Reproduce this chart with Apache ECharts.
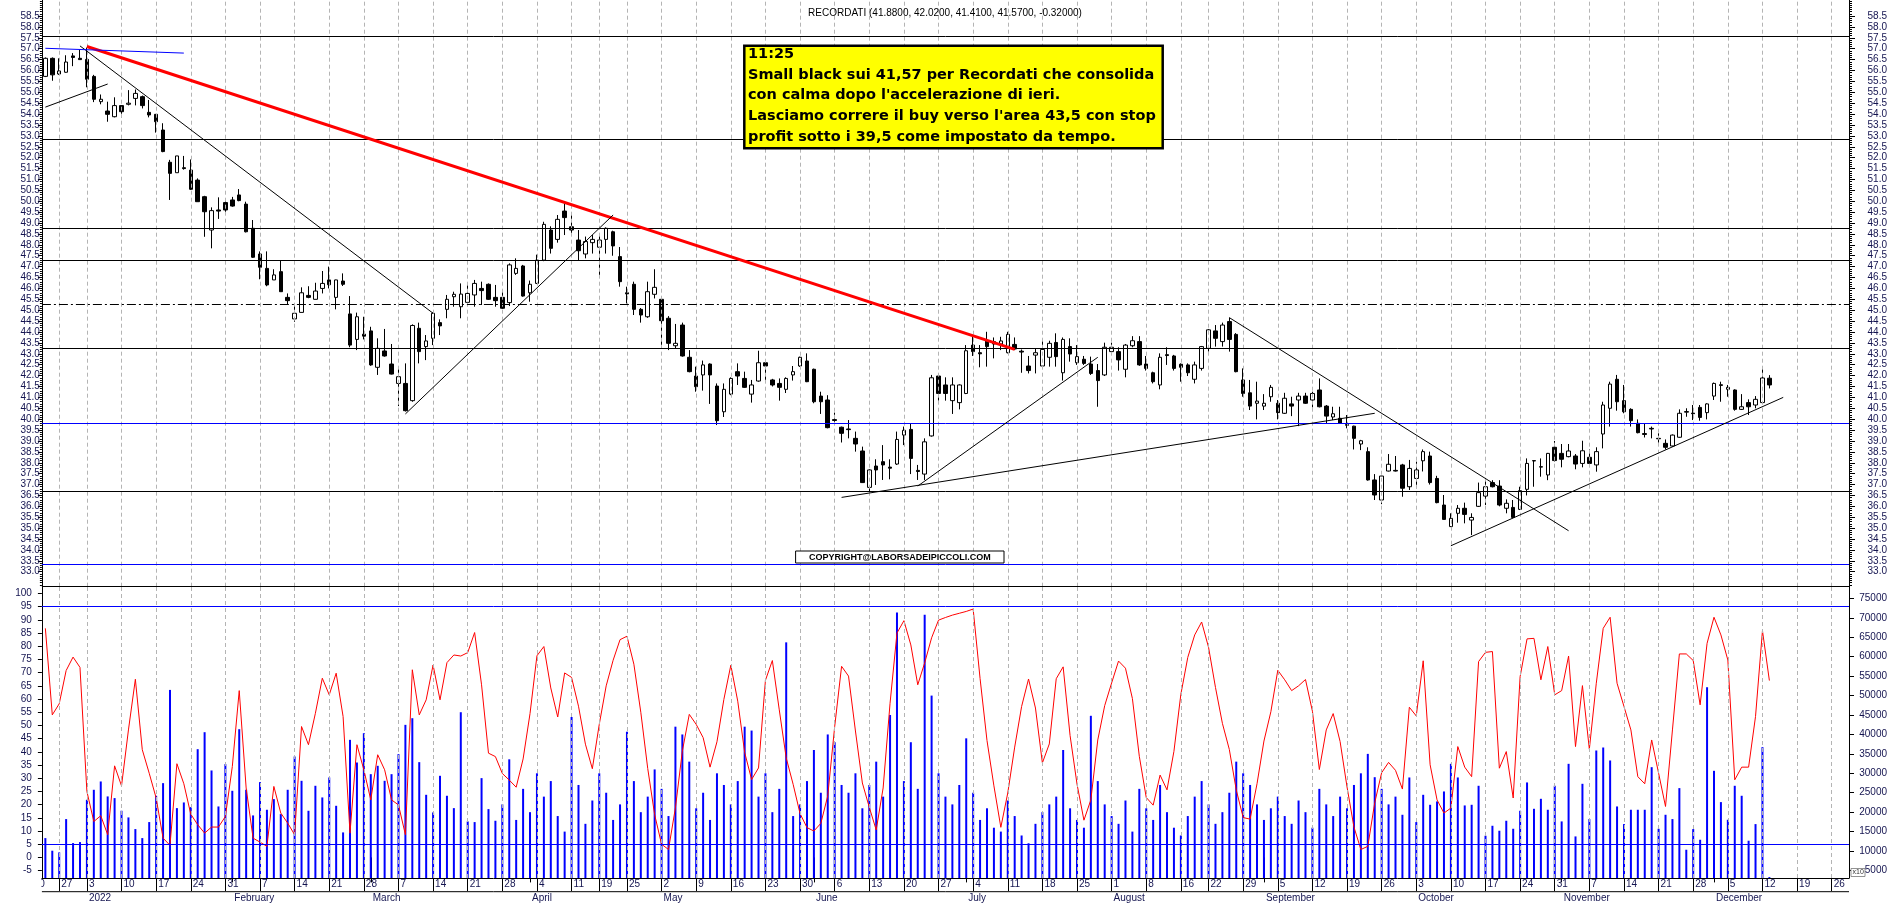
<!DOCTYPE html>
<html><head><meta charset="utf-8">
<script src="https://cdn.jsdelivr.net/npm/echarts@6/dist/echarts.min.js"></script>
<style>html,body{margin:0;padding:0;background:#fff}#c{width:1890px;height:903px}</style>
</head><body><div id="c"></div>
<script>
// ---------- calendar ----------
const HOLIDAYS = ['2021-12-24','2021-12-31','2022-04-15','2022-04-18','2022-08-15'];
const MONTHS = ['January','February','March','April','May','June','July','August','September','October','November','December'];
function buildDays(){
  const out=[]; let d=Date.UTC(2021,11,22); const end=Date.UTC(2022,11,28);
  while(d<=end){const dt=new Date(d);const w=dt.getUTCDay();const s=dt.toISOString().slice(0,10);
    if(w!==0&&w!==6&&HOLIDAYS.indexOf(s)<0) out.push(s); d+=86400000;}
  return out;
}
const DATES = buildDays();

// ---------- price data (open, close, low, high) ----------
const OPEN = [55.73,56.56,55.84,55.92,56.67,56.56,56.51,55.73,54.57,54.14,53.88,54.39,54.45,54.72,54.8,54.08,53.99,53.27,51.79,51.31,
51.54,51.43,50.97,50.21,48.68,49.6,49.94,50.06,50.29,49.87,48.76,47.58,46.92,46.39,46.77,45.59,44.6,44.9,45.68,45.5,
46.0,46.39,45.59,46.34,44.83,43.66,43.9,44.05,42.38,43.13,42.53,41.64,41.64,40.85,44.17,43.33,43.71,44.43,45.04,45.62,
45.16,45.36,45.7,46.0,46.19,45.59,45.59,45.35,46.69,47.03,45.8,46.23,47.3,48.68,48.25,49.55,48.83,48.22,47.58,48.1,
47.89,48.25,48.6,47.46,45.8,46.19,45.04,44.7,45.73,45.5,44.63,43.37,44.32,42.84,41.98,42.03,42.53,41.52,40.34,41.15,
42.18,41.87,41.15,41.75,42.59,41.8,41.64,41.37,42.03,42.44,42.67,42.29,41.06,40.88,39.98,39.63,39.55,39.12,38.54,36.87,
37.85,38.05,37.8,37.94,39.27,39.53,37.65,37.48,39.23,41.98,41.57,40.85,40.76,41.18,43.4,43.05,43.6,43.45,43.45,43.05,
43.43,43.12,42.44,42.94,42.44,42.84,43.52,42.13,43.33,42.59,42.75,42.53,42.23,42.03,43.1,43.1,42.29,43.37,43.56,42.53,
42.13,41.57,42.96,42.9,42.52,42.49,41.83,42.33,43.25,44.05,43.56,44.48,43.89,41.8,41.21,40.73,40.6,41.03,40.73,40.27,
40.7,40.88,41.06,40.88,41.34,40.6,40.1,40.04,39.75,39.68,38.86,38.51,37.21,36.29,37.62,37.65,37.9,36.9,37.28,38.09,
38.31,37.28,36.06,35.07,35.68,35.91,35.37,36.0,36.47,37.09,36.93,35.91,35.95,35.86,36.78,38.08,37.82,37.44,38.71,38.43,
38.28,38.31,37.97,38.25,37.9,39.32,40.5,41.83,40.85,40.45,39.81,39.34,39.58,39.12,38.89,38.77,39.17,40.32,40.28,40.54,
40.3,41.06,41.58,41.37,41.34,40.45,40.76,40.65,40.76,41.88];
const CLOSE = [56.56,55.8,55.98,56.39,56.6,56.5,55.6,54.68,54.68,53.99,54.39,54.11,54.5,54.95,54.39,53.96,53.65,52.28,51.28,52.08,
51.5,50.55,49.98,49.52,49.57,49.55,49.6,49.78,50.03,48.6,47.43,46.97,46.16,46.62,45.85,45.44,44.86,45.8,45.59,45.88,
46.23,46.17,46.39,46.19,43.4,44.7,43.81,42.49,43.25,42.9,42.07,41.95,40.39,44.3,43.1,43.59,44.86,44.28,45.5,45.73,
45.74,45.77,46.23,45.9,45.5,45.44,45.09,47.08,46.92,45.65,46.19,47.3,48.94,47.84,49.17,49.25,48.68,47.73,48.15,48.25,
48.22,48.76,47.95,46.31,45.75,45.04,44.78,45.85,46.05,44.52,43.48,43.48,42.9,42.18,41.49,42.49,42.03,39.93,41.37,41.87,
41.98,41.46,41.57,42.59,42.44,41.57,41.46,41.87,42.18,42.84,41.72,40.8,40.8,39.61,39.94,39.35,39.52,38.86,37.09,37.67,
37.67,37.9,37.75,39.07,39.49,38.2,37.6,38.96,41.9,41.18,41.18,41.57,41.57,43.14,43.1,43.0,43.33,43.56,43.59,43.89,
43.22,43.08,42.23,43.05,43.2,43.48,42.87,43.66,42.99,42.87,42.56,42.1,41.77,43.3,43.3,42.72,43.4,43.6,42.49,42.33,
41.72,42.84,42.92,42.33,42.38,42.13,42.49,43.33,44.1,43.71,44.32,43.66,42.18,41.18,40.6,40.83,40.73,41.46,40.3,40.96,
40.6,41.06,40.73,41.18,40.57,40.14,40.25,39.81,39.72,39.12,39.01,37.21,36.52,37.39,37.93,37.62,36.83,37.74,37.67,38.51,
37.09,36.17,35.4,35.45,35.91,35.63,35.49,36.63,36.9,36.9,36.06,36.14,35.49,36.72,37.97,38.1,37.8,38.43,38.1,38.16,
38.54,37.94,38.55,37.97,38.51,40.65,41.61,40.8,40.34,39.93,39.38,39.3,39.55,39.1,38.71,39.27,40.27,40.35,40.25,40.08,
40.7,41.64,41.55,41.46,40.45,40.57,40.57,40.91,41.89,41.57];
const LOW = [55.7,55.53,55.8,55.9,56.2,56.5,55.23,54.55,54.45,53.65,53.85,53.85,54.4,54.4,54.26,53.85,53.15,52.25,50.06,51.31,
51.45,50.52,49.98,48.37,47.84,49.19,49.37,49.75,50.0,48.57,47.4,46.42,46.1,46.39,45.85,45.28,44.47,44.9,45.55,45.5,
45.77,46.0,45.04,46.11,43.3,43.17,43.66,42.45,42.03,42.87,42.05,40.6,40.35,40.8,42.56,42.71,43.4,43.86,44.63,45.16,
44.63,45.3,45.16,45.24,45.47,45.16,45.06,45.19,46.62,45.62,45.39,46.2,47.25,47.6,48.1,48.45,48.45,47.3,47.38,47.6,
46.55,47.6,47.5,46.08,45.31,44.78,44.43,44.65,45.54,43.22,43.17,43.22,42.87,42.15,41.26,41.31,40.7,39.73,40.1,41.1,
41.57,41.43,40.76,41.72,41.77,41.5,40.85,41.2,41.77,42.4,41.7,40.73,40.24,39.58,39.73,38.93,39.12,38.51,37.07,36.62,
36.98,37.21,37.24,37.9,38.81,37.48,37.21,37.21,39.2,40.85,40.85,40.24,40.45,41.15,42.9,42.38,42.41,42.79,43.17,43.02,
43.17,42.13,42.1,42.1,42.33,42.41,42.41,41.77,42.64,42.49,42.49,42.03,40.57,41.98,43.05,42.23,41.92,43.3,42.45,42.23,
41.64,41.37,42.49,42.23,41.72,41.98,41.64,42.23,43.1,43.33,43.33,43.1,42.15,41.03,40.42,39.99,40.42,40.8,39.99,40.24,
40.14,39.68,40.7,40.54,40.54,39.81,39.96,39.78,39.58,38.61,38.58,37.18,36.29,36.1,37.6,37.6,36.44,36.75,36.83,37.6,
37.0,36.14,35.4,35.05,35.25,35.22,34.68,35.97,36.06,36.87,36.0,35.68,35.45,35.83,36.5,36.9,37.36,37.2,38.06,37.79,
38.25,37.7,37.79,37.94,37.59,38.66,39.66,40.39,40.27,39.66,39.35,39.16,39.12,38.92,38.61,38.74,39.15,40.11,39.96,39.93,
39.99,40.88,40.8,41.03,40.39,40.42,40.19,40.5,40.73,41.41];
const HIGH = [56.6,56.6,56.56,56.7,56.8,56.95,57.05,55.8,54.9,54.57,54.77,54.4,55.1,55.13,54.85,54.65,54.0,53.58,51.9,52.08,
52.08,51.92,51.05,50.25,49.72,50.18,50.0,50.2,50.56,49.98,49.14,47.7,47.7,46.88,47.27,45.77,45.24,46.05,46.1,46.26,
46.8,47.0,46.4,46.69,45.65,44.89,44.7,44.24,43.71,44.14,43.45,42.33,42.56,44.35,44.43,43.86,44.9,44.58,45.7,45.85,
46.23,46.23,46.39,46.31,46.23,46.16,45.85,47.15,47.38,47.08,46.36,47.55,49.06,48.85,49.37,49.9,49.37,48.68,48.38,48.45,
48.45,48.8,48.65,47.9,46.08,46.31,45.1,46.31,46.88,45.62,44.73,44.37,44.43,43.17,42.41,42.69,42.56,41.64,41.64,41.92,
42.56,42.18,41.8,43.14,42.62,41.85,41.87,41.92,42.44,42.87,43.02,42.32,41.26,41.1,40.3,39.66,39.96,39.43,38.74,37.7,
38.16,38.81,38.16,39.43,39.66,39.8,37.9,39.12,42.03,42.03,41.92,41.92,41.6,43.4,43.86,43.4,44.01,43.75,43.78,44.01,
43.75,43.2,42.9,43.25,43.71,43.6,43.94,43.75,43.71,43.4,42.9,42.87,42.53,43.51,43.51,43.3,43.45,43.81,43.81,42.9,
42.18,43.02,43.3,42.95,42.56,42.56,42.64,43.36,44.14,44.32,44.43,44.66,43.95,42.33,41.8,41.72,41.15,41.57,40.88,41.21,
41.03,41.21,41.21,41.26,41.87,40.65,40.57,40.57,40.19,39.7,39.05,38.71,37.48,37.4,38.4,38.31,37.95,38.13,38.05,38.61,
38.51,37.4,36.52,35.68,36.06,36.17,35.68,37.09,37.2,37.2,37.2,36.32,36.29,36.9,38.2,38.12,38.2,38.45,39.0,38.86,
38.86,38.4,39.01,38.61,38.71,40.8,41.72,42.03,41.57,40.5,39.99,39.81,39.66,39.35,39.07,39.3,40.45,40.5,40.65,40.65,
40.73,41.68,41.72,41.57,41.37,41.15,40.91,41.06,42.44,42.02];

// ---------- lower panel ----------
const VOLUME = [13330,10080,9650,18220,12050,12300,23190,25760,27900,24050,23620,20360,18650,15650,13330,17450,24220,27470,51460,21040,
22500,21300,36210,40580,30730,21470,32360,25500,41350,25760,19160,27730,20620,23360,19500,25760,34330,28070,20360,26790,
23790,28930,21640,14790,38610,32780,40320,29780,31930,28070,29780,34930,42470,44180,32870,24470,19930,29360,24220,21040,
45720,17620,17450,28760,20790,17790,
22000,33600,18000,26000,20000,30000,24000,28000,19000,15000,
44500,27000,17000,23000,30000,25000,18000,22000,40700,28000,
20000,24000,31000,26000,19000,42000,40000,33000,21000,25000,
18000,30000,27000,22000,28000,42000,41000,24000,30000,20000,
26000,63700,19000,22000,28000,36000,25000,40000,38000,27000,
25000,30000,21000,27000,33000,24000,45000,71400,28000,38000,
26000,70800,50000,30000,24000,22000,27000,39000,25000,18000,
21000,16000,15000,23000,19000,14000,12000,17000,20000,22000,
24000,36000,21000,18000,16000,44800,28000,22000,19000,17000,
23000,15000,26000,21000,18000,27000,20000,16000,14000,19000,
24000,28000,22000,17000,20000,25000,33000,30000,27000,22000,
18000,21000,24000,19000,17000,23000,20000,16000,26000,22000,
19000,24000,21000,27000,30000,35000,29000,26000,22000,24000,
19330,28930,17450,24470,21900,22760,25330,32440,28930,21730,21900,26790,13930,16500,15220,17790,15730,20360,27650,20870,
23440,20620,26790,17620,32440,13760,27300,18220,35870,36640,33300,21470,16930,20620,20620,20620,31580,15730,19330,18220,
26190,10330,15650,12900,52150,30640,22590,18050,26790,24220,12650,16930,36730,3300];
const OSC = [86.8,54,58.2,70.8,75.9,72,25,13.6,15.8,8.6,34.7,27.1,48.3,67.5,40.8,31.9,22.5,7.3,4.6,35.5,
27.9,16.4,12.4,9.2,11.5,11.5,15.5,34.4,63.2,26.3,7.3,5.8,4.2,26.9,16.8,13,8.6,49.6,42.7,54.6,
67.9,61.6,69.8,53.4,9.2,42.7,33.2,21.8,38.9,33.2,21.8,19.9,8.6,71.1,54,59.7,72.9,59.7,73.8,76.7,
76.3,77.6,85.2,65.4,39.5,38.2,
31.8,29.3,26.6,37.3,54.5,76.4,79.9,64.2,53.2,69.9,68.2,57.3,42.9,33.6,50.4,65,74.7,82.5,83.8,73.2,
55,33.7,16.2,5,3,18.8,40.3,54.2,50.4,45.4,34.2,43.8,59.9,72.8,59.2,39.8,29.5,33.9,67.1,74.6,
55.9,37.7,27.7,16.6,11.3,10,12.9,23.3,49.5,72.4,68.7,47.9,28.2,19,10.4,26.3,58.4,85,89.7,80.5,
65.4,73.7,83.2,89.9,90.9,91.8,92.5,93.2,94.1,67.8,44.3,27.1,11.4,24.4,41.8,57.2,67.6,56.6,35.8,43,
67.7,72.2,46.2,27.8,14.1,21.8,44.5,57.5,66.1,74.4,71.7,60.2,38.3,22.7,19.8,31.2,25.6,40.2,61.8,75.8,
84.3,89.2,79.6,64.4,50.8,40.9,25.6,15.1,14.5,27.9,44.1,55.2,70.9,67.3,63.2,65,67.4,55.4,33.3,48.3,
54.5,43.9,26.7,11.5,3,4.2,20.7,32.1,36,33,
25.9,56.9,53.6,74.5,35.1,21.8,16.8,18.7,42,34.2,30.6,74.2,77.7,78,33.8,40.1,22.5,68.5,82.8,83,
67.3,79.9,61.6,63.2,76.3,42,65.1,41,66,86.8,91,66,57.2,48.3,30.6,27.9,44.5,31.9,19.3,48.3,
77.1,77.1,74.6,57.8,81.1,91,84.3,74.8,29.4,34.2,34.2,53.4,85.9,67];

// ---------- analyst drawings ----------
const LEVELS_BLACK = [57.58,52.84,48.76,47.29,43.25,36.70];
const LEVEL_DASHDOT = 45.29;
const LEVELS_BLUE = [39.81,33.34];
const OSC_LEVELS_BLUE = [95,5];
const TRENDLINES = [ // [index1, price1, index2, price2, color, width]
  [6,57.1,140,43.2,'#ff0000',3],
  [5,57.13,56,44.86,'#000000',1],
  [52,40.24,82,49.37,'#000000',1],
  [0,54.32,9,55.38,'#000000',1],
  [0,57.02,20,56.8,'#0000ff',1],
  [115,36.41,192,40.27,'#000000',1],
  [126,36.93,152,42.84,'#000000',1],
  [171,44.66,220,34.88,'#000000',1],
  [203,34.19,251,41.0,'#000000',1]
];
const PRICE_MIN=32.312, PRICE_MAX=59.236, OSC_MIN=-7.8, OSC_MAX=102.57, VOL_MIN=3059, VOL_MAX=78021;
const PRICE_LABELS=[]; for(let k=0;k<=51;k++) PRICE_LABELS.push(Math.round((33+k*0.5)*10)/10);
const PRICE_MINOR=[]; for(let k=0;k<=269;k++){const v=Math.round((32.4+k*0.1)*10)/10; if(v<PRICE_MAX) PRICE_MINOR.push(v);}
const OSC_LABELS=[]; for(let v=-5;v<=100;v+=5) OSC_LABELS.push(v);
const VOL_LABELS=[]; for(let v=5000;v<=75000;v+=5000) VOL_LABELS.push(v);
const TITLE='RECORDATI (41.8800, 42.0200, 41.4100, 41.5700, -0.32000)';
const NOTE=['11:25','Small black sui 41,57 per Recordati che consolida','con calma dopo l\'accelerazione di ieri.','Lasciamo correre il buy verso l\'area 43,5 con stop','profit sotto i 39,5 come impostato da tempo.'];

// ---------- derived ----------
function weekKey(s){const t=Date.parse(s+'T00:00:00Z');const w=(new Date(t).getUTCDay()+6)%7;return t-w*86400000;}
const WEEK_START = DATES.map((d,i)=> i>0 && weekKey(d)!==weekKey(DATES[i-1]));
const MONTH_START = DATES.map((d,i)=> i>0 && d.slice(0,7)!==DATES[i-1].slice(0,7));
const WEEK_CATS = DATES.filter((d,i)=>WEEK_START[i]);
const candle = OPEN.map((o,i)=>[o,CLOSE[i],LOW[i],HIGH[i]]);

const FONT='"Liberation Sans", Arial, sans-serif';
const LBL='#141450';
const grid = {color:'#b4b4b4',width:1,type:[4,3]};
const vLines = WEEK_CATS.map(c=>({xAxis:c,lineStyle:grid}));
const priceMarks = [].concat(
  vLines,
  LEVELS_BLACK.map(v=>({yAxis:v,lineStyle:{color:'#000',width:1,type:'solid'}})),
  [{yAxis:LEVEL_DASHDOT,lineStyle:{color:'#000',width:1,type:[9,3,2,3]}}],
  LEVELS_BLUE.map(v=>({yAxis:v,lineStyle:{color:'#0000ff',width:1,type:'solid'}})),
  TRENDLINES.map(t=>[{coord:[t[0],t[1]],lineStyle:{color:t[4],width:t[5],type:'solid'}},{coord:[t[2],t[3]]}])
);

const G_LEFT=41.9, G_W=1807.1;
const chart = echarts.init(document.getElementById('c'));
chart.setOption({
  animation:false,
  textStyle:{fontFamily:FONT},
  title:{text:TITLE,left:'center',top:3,textStyle:{fontSize:10,fontWeight:'normal',color:'#000',fontFamily:FONT}},
  grid:[
    {left:G_LEFT,width:G_W,top:0,height:586.7,containLabel:false},
    {left:G_LEFT,width:G_W,top:586.7,height:291.6,containLabel:false}
  ],
  xAxis:[
    {type:'category',gridIndex:0,data:DATES,position:'bottom',boundaryGap:true,axisLine:{show:false},axisTick:{show:false},axisLabel:{show:false},splitLine:{show:false}},
    {type:'category',gridIndex:1,data:DATES,position:'bottom',boundaryGap:true,
      axisLine:{show:true,onZero:false,lineStyle:{color:'#000',width:1}},
      axisTick:{show:true,interval:(i)=>WEEK_START[i],alignWithLabel:true,length:13,lineStyle:{color:'#000'}},
      axisLabel:{show:true,interval:(i)=>WEEK_START[i],formatter:(v)=>String(parseInt(v.slice(8),10)),align:'left',padding:[0,0,0,2],margin:1,fontSize:10,color:LBL,fontFamily:FONT},
      splitLine:{show:false}},
    {type:'category',gridIndex:1,data:DATES,position:'bottom',boundaryGap:true,
      axisLine:{show:false},
      axisTick:{show:true,interval:(i)=>MONTH_START[i],alignWithLabel:true,length:25,lineStyle:{color:'#000'}},
      axisLabel:{show:true,interval:(i)=>MONTH_START[i],formatter:(v)=>{const m=parseInt(v.slice(5,7),10)-1;return m===0?v.slice(0,4):MONTHS[m];},align:'left',padding:[0,0,0,2],margin:15,fontSize:10,color:LBL,fontFamily:FONT},
      splitLine:{show:false}}
  ],
  yAxis:[
    {type:'value',gridIndex:0,position:'left',min:PRICE_MIN,max:PRICE_MAX,axisLine:{show:true,onZero:false,lineStyle:{color:'#000'}},
      axisTick:{show:true,customValues:PRICE_LABELS,length:4,lineStyle:{color:'#000'}},
      axisLabel:{customValues:PRICE_LABELS,formatter:(v)=>v.toFixed(1),margin:2,fontSize:10,color:LBL,fontFamily:FONT},splitLine:{show:false}},
    {type:'value',gridIndex:0,position:'right',min:PRICE_MIN,max:PRICE_MAX,axisLine:{show:true,onZero:false,lineStyle:{color:'#000'}},
      axisTick:{show:true,customValues:PRICE_LABELS,length:6,lineStyle:{color:'#000'}},
      axisLabel:{customValues:PRICE_LABELS,formatter:(v)=>v.toFixed(1),margin:38,align:'right',fontSize:10,color:LBL,fontFamily:FONT},splitLine:{show:false}},
    {type:'value',gridIndex:0,position:'left',min:PRICE_MIN,max:PRICE_MAX,axisLine:{show:false},
      axisTick:{show:true,customValues:PRICE_MINOR,length:2,lineStyle:{color:'#000'}},axisLabel:{show:false},splitLine:{show:false}},
    {type:'value',gridIndex:0,position:'right',min:PRICE_MIN,max:PRICE_MAX,axisLine:{show:false},
      axisTick:{show:true,customValues:PRICE_MINOR,length:3,lineStyle:{color:'#000'}},axisLabel:{show:false},splitLine:{show:false}},
    {type:'value',gridIndex:1,position:'left',min:OSC_MIN,max:OSC_MAX,axisLine:{show:true,onZero:false,lineStyle:{color:'#000'}},
      axisTick:{show:true,customValues:OSC_LABELS,length:4,lineStyle:{color:'#000'}},
      axisLabel:{customValues:OSC_LABELS,formatter:(v)=>String(v),margin:10,fontSize:10,color:LBL,fontFamily:FONT},splitLine:{show:false}},
    {type:'value',gridIndex:1,position:'right',min:VOL_MIN,max:VOL_MAX,axisLine:{show:true,onZero:false,lineStyle:{color:'#000'}},
      axisTick:{show:true,customValues:VOL_LABELS,length:5,lineStyle:{color:'#000'}},
      axisLabel:{customValues:VOL_LABELS,formatter:(v)=>String(v),margin:38,align:'right',fontSize:10,color:LBL,fontFamily:FONT},splitLine:{show:false}}
  ],
  series:[
    {type:'candlestick',xAxisIndex:0,yAxisIndex:0,data:candle,barWidth:4,
      itemStyle:{color:'#ffffff',color0:'#000000',borderColor:'#000000',borderColor0:'#000000',borderWidth:1},
      markLine:{silent:true,symbol:['none','none'],label:{show:false},animation:false,data:priceMarks}},
    {type:'bar',xAxisIndex:1,yAxisIndex:5,data:VOLUME,barWidth:2,itemStyle:{color:'#0000ff'},z:2,
      markLine:{silent:true,symbol:['none','none'],label:{show:false},animation:false,data:vLines}},
    {type:'line',xAxisIndex:1,yAxisIndex:4,data:OSC,symbol:'none',lineStyle:{color:'#ff0000',width:1},z:3,
      markLine:{silent:true,symbol:['none','none'],label:{show:false},animation:false,
        data:OSC_LEVELS_BLUE.map(v=>({yAxis:v,lineStyle:{color:'#0000ff',width:1,type:'solid'}})).concat([{yAxis:OSC_MAX,lineStyle:{color:'#000',width:1.2,type:'solid'}}])}}
  ],
  graphic:[
    {type:'line',shape:{x1:G_LEFT,y1:891.7,x2:G_LEFT+G_W,y2:891.7},style:{stroke:'#000',lineWidth:1},z:10},
    {type:'text',x:33.6,y:884.5,style:{text:'20',font:'10px '+FONT,fill:LBL,verticalAlign:'middle'},z:10},
    {type:'rect',shape:{x:0,y:879,width:41.4,height:12},style:{fill:'#fff'},z:11},
    {type:'rect',shape:{x:1851,y:868.5,width:14,height:8},style:{fill:'#fff',stroke:'#777',lineWidth:0.8},z:10},
    {type:'text',x:1852.5,y:872.5,style:{text:'x10',font:'7px '+FONT,fill:'#333',verticalAlign:'middle'},z:11},
    {type:'rect',shape:{x:744.3,y:45.7,width:418.4,height:102.6},style:{fill:'#ffff00',stroke:'#000',lineWidth:2.5},z:20},
    {type:'text',x:748,y:44.2,style:{text:NOTE.join('\n'),font:'bold 14.5px "DejaVu Sans", sans-serif',lineHeight:20.6,fill:'#000',verticalAlign:'top'},z:21},
    {type:'rect',shape:{x:795.6,y:551,width:208.4,height:12},style:{fill:'#fff',stroke:'#000',lineWidth:1},z:20},
    {type:'text',x:899.8,y:557.2,style:{text:'COPYRIGHT@LABORSADEIPICCOLI.COM',font:'bold 9px '+FONT,fill:'#000',align:'center',verticalAlign:'middle'},z:21}
  ]
});
</script></body></html>
